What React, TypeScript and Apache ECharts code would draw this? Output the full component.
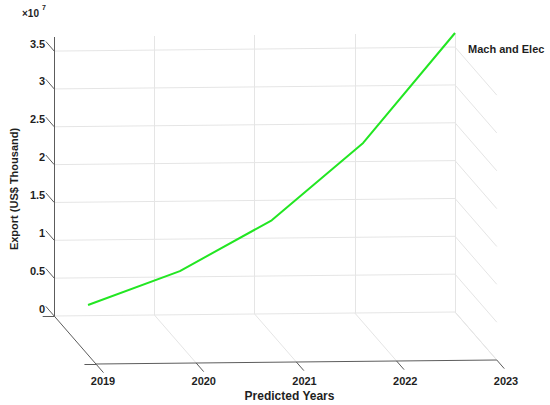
import React, { useEffect, useRef } from 'react';
import * as echarts from 'echarts';

// ---- data ----
const YEARS = [2019, 2020, 2021, 2022, 2023];
const EXPORT_VALUES = [6.59e6, 9.67e6, 1.498e7, 2.374e7, 3.686e7];
// position of each point inside the box depth (0 = back wall, 1 = front edge)
const LINE_DEPTH = [0.81, 0.61, 0.41, 0.2, 0];
const Z_TICKS = [0, 0.5e7, 1e7, 1.5e7, 2e7, 2.5e7, 3e7, 3.5e7];
const SERIES_NAME = 'Mach and Elec';
const X_NAME = 'Predicted Years';
const Z_NAME = 'Export (US$ Thousand)';
const Z_EXPONENT = 7;

const X_MIN = YEARS[0];
const X_MAX = YEARS[YEARS.length - 1];
const Z_MAX = Math.max(...EXPORT_VALUES);
const Z_STEP = Z_TICKS[1] - Z_TICKS[0];

// ---- view / layout ----
const BOX = { left: 52, top: 37, width: 403, height: 279 };
const DEPTH_PX = [42, 48];
const TILT_PX = 1; // back edge rises 1px per year
const FONT = '"Liberation Sans", Arial, Helvetica, sans-serif';
const TEXT_COLOR = '#1f1f1f';

const PX_PER_YEAR = BOX.width / (X_MAX - X_MIN);
const PX_PER_UNIT = BOX.height / Z_MAX;

function proj(year: number, z: number, depth: number): [number, number] {
  const x = year + (depth * DEPTH_PX[0]) / PX_PER_YEAR;
  const y = z + ((year - X_MIN) * TILT_PX - depth * DEPTH_PX[1]) / PX_PER_UNIT;
  return [x, y];
}

function seg(a: [number, number], b: [number, number]) {
  return { coords: [a, b] };
}

export default function App() {
  const ref = useRef<HTMLDivElement>(null);

  useEffect(() => {
    if (!ref.current) return;
    const chart = echarts.init(ref.current, undefined, { renderer: 'svg' });

    const gridSegs: any[] = [];
    // back wall verticals
    YEARS.slice(1).forEach((yr) => gridSegs.push(seg(proj(yr, 0, 0), proj(yr, Z_MAX, 0))));
    // back wall horizontals
    Z_TICKS.forEach((z) => gridSegs.push(seg(proj(X_MIN, z, 0), proj(X_MAX, z, 0))));
    // floor depth lines
    YEARS.slice(1).forEach((yr) => gridSegs.push(seg(proj(yr, 0, 0), proj(yr, 0, 1))));
    // right wall depth lines
    Z_TICKS.forEach((z) => gridSegs.push(seg(proj(X_MAX, z, 0), proj(X_MAX, z, 1))));

    const axisSegs: any[] = [];
    axisSegs.push(seg(proj(X_MIN, 0, 0), proj(X_MIN, Z_MAX, 0))); // z axis
    axisSegs.push(seg(proj(X_MIN, 0, 0), proj(X_MIN, 0, 1))); // depth axis
    axisSegs.push(seg(proj(X_MIN, 0, 1), proj(X_MAX, 0, 1))); // x axis (front)
    Z_TICKS.forEach((z) => axisSegs.push(seg(proj(X_MIN, z, 0), proj(X_MIN, z, -0.2))));
    YEARS.forEach((yr) => axisSegs.push(seg(proj(yr, 0, 1), proj(yr, 0, 1.18))));
    [0, 1].forEach((d) => axisSegs.push(seg(proj(X_MIN, 0, d), proj(X_MIN - 0.115, 0, d))));

    const lineData = YEARS.map((yr, i) => proj(yr, EXPORT_VALUES[i], LINE_DEPTH[i]));

    const labelStyle = { color: TEXT_COLOR, fontWeight: 'bold' as const, fontSize: 11, fontFamily: FONT };

    chart.setOption({
      animation: false,
      backgroundColor: '#ffffff',
      grid: [
        { left: BOX.left, top: BOX.top, width: BOX.width, height: BOX.height },
        { left: 103, top: 300, width: 403, height: 67 },
      ],
      xAxis: [
        { gridIndex: 0, type: 'value', min: X_MIN, max: X_MAX, show: false },
        {
          gridIndex: 1,
          type: 'value',
          min: X_MIN,
          max: X_MAX,
          interval: 1,
          axisLine: { show: false },
          axisTick: { show: false },
          splitLine: { show: false },
          axisLabel: { ...labelStyle, margin: 8, formatter: (v: number) => String(v) },
          name: X_NAME,
          nameLocation: 'middle',
          nameGap: 23,
          nameTextStyle: { color: TEXT_COLOR, fontWeight: 'bold', fontSize: 12, fontFamily: FONT, padding: [0, 30, 0, 0] },
        },
      ],
      yAxis: [
        {
          gridIndex: 0,
          type: 'value',
          min: 0,
          max: Z_MAX,
          interval: Z_STEP,
          axisLine: { show: false },
          axisTick: { show: false },
          splitLine: { show: false },
          axisLabel: {
            ...labelStyle,
            margin: 9,
            verticalAlign: 'bottom',
            padding: [0, 0, 2, 0],
            formatter: (v: number) => {
              const k = v / Z_STEP;
              if (Math.abs(k - Math.round(k)) > 1e-6) return '';
              return String(Math.round((v / Math.pow(10, Z_EXPONENT)) * 100) / 100);
            },
          },
          name: Z_NAME,
          nameLocation: 'middle',
          nameGap: 34,
          nameTextStyle: { color: TEXT_COLOR, fontWeight: 'bold', fontSize: 11, fontFamily: FONT, padding: [0, 25, 0, 0] },
        },
        { gridIndex: 1, type: 'value', min: 0, max: 1, show: false },
      ],
      series: [
        {
          type: 'lines',
          coordinateSystem: 'cartesian2d',
          xAxisIndex: 0,
          yAxisIndex: 0,
          clip: false,
          silent: true,
          z: 1,
          lineStyle: { color: '#e5e5e5', width: 1, opacity: 1, curveness: 0 },
          data: gridSegs,
        },
        {
          type: 'lines',
          coordinateSystem: 'cartesian2d',
          xAxisIndex: 0,
          yAxisIndex: 0,
          clip: false,
          silent: true,
          z: 2,
          lineStyle: { color: '#5c5c5c', width: 1, opacity: 1, curveness: 0 },
          data: axisSegs,
        },
        {
          type: 'line',
          name: SERIES_NAME,
          xAxisIndex: 0,
          yAxisIndex: 0,
          clip: false,
          z: 3,
          symbol: 'none',
          showSymbol: false,
          lineStyle: { color: '#22e622', width: 2 },
          data: lineData,
        },
      ],
      graphic: [
        { type: 'text', left: 22, top: 8, style: { text: '×10', fontSize: 10, fontWeight: 'bold', fill: TEXT_COLOR, fontFamily: FONT } },
        { type: 'text', left: 42, top: 4, style: { text: String(Z_EXPONENT), fontSize: 7, fontWeight: 'bold', fill: TEXT_COLOR, fontFamily: FONT } },
        { type: 'text', left: 468, top: 43, style: { text: SERIES_NAME, fontSize: 11, fontWeight: 'bold', fill: TEXT_COLOR, fontFamily: FONT } },
      ],
    });

    return () => chart.dispose();
  }, []);

  return <div ref={ref} style={{ position: 'absolute', left: 0, top: 0, width: 550, height: 405 }} />;
}
